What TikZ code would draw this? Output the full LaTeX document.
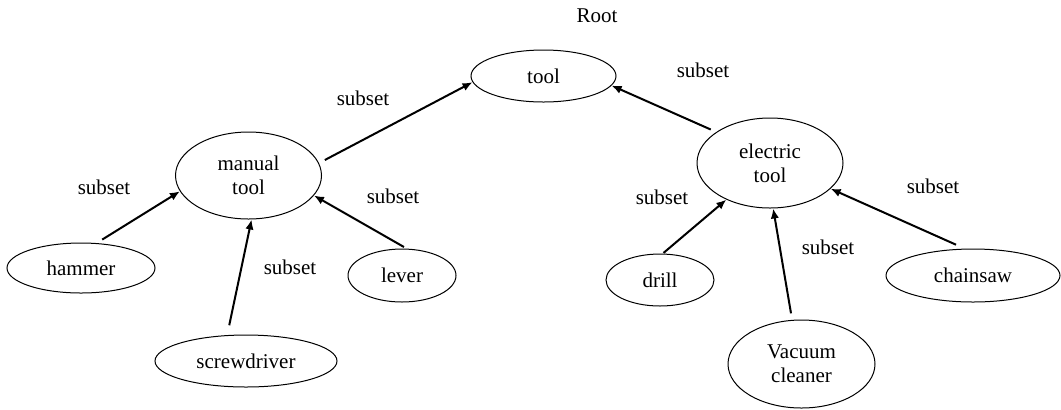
\documentclass[tikz,border=0pt]{standalone}
\usepackage{fontspec}
\setmainfont{Liberation Serif}
\usetikzlibrary{shapes.geometric,arrows.meta}
\begin{document}
\begin{tikzpicture}[x=0.5pt,y=-0.5pt,
  every node/.style={font=\fontsize{10.5}{12}\selectfont},
  concept/.style={ellipse,draw,line width=0.5pt,inner sep=0pt,align=center},
  lbl/.style={inner sep=0pt},
  isa/.style={line width=1pt,-{Latex[length=5pt,width=4.2pt]}}]
\useasboundingbox (0,0) rectangle (1061,409);

% concepts
\node[concept,minimum width=72.5pt,minimum height=26pt] (tool) at (543.5,76) {tool};
\node[concept,minimum width=73pt,minimum height=43.5pt] (manual) at (248.5,175.5) {manual\\tool};
\node[concept,minimum width=73pt,minimum height=45pt] (electric) at (770,163) {electric\\tool};
\node[concept,minimum width=74pt,minimum height=25pt] (hammer) at (81,268) {hammer};
\node[concept,minimum width=91pt,minimum height=26pt] (screwdriver) at (246,361) {screwdriver};
\node[concept,minimum width=54pt,minimum height=26.5pt] (lever) at (402,275.5) {lever};
\node[concept,minimum width=54pt,minimum height=26pt] (drill) at (660,280) {drill};
\node[concept,minimum width=73.5pt,minimum height=44pt] (vacuum) at (801.5,364) {Vacuum\\cleaner};
\node[concept,minimum width=87pt,minimum height=26.5pt] (chainsaw) at (973,275.5) {chainsaw};

% labels
\node[lbl] (root) at (597,16) {Root};
\node[lbl] (s1) at (363,98) {subset};
\node[lbl] (s2) at (703,70) {subset};
\node[lbl] (s3) at (104,187) {subset};
\node[lbl] (s4) at (393,196) {subset};
\node[lbl] (s5) at (290,267) {subset};
\node[lbl] (s6) at (662,197) {subset};
\node[lbl] (s7) at (828,247) {subset};
\node[lbl] (s8) at (933,186) {subset};

% subset relations
\draw[isa,shorten <=3.3pt] (manual.10) -- (tool.185);
\draw[isa,shorten <=3pt] (electric.150) -- (tool.-8);
\draw[isa,shorten <=3.3pt] (hammer.58) -- (manual.193);
\draw[isa,shorten <=5pt] (screwdriver.126) -- (manual.274);
\draw[isa,shorten <=1.6pt] (lever.80) -- (manual.-17);
\draw[isa,shorten <=0.5pt] (drill.84) -- (electric.220);
\draw[isa,shorten <=3.3pt] (vacuum.102) -- (electric.274);
\draw[isa,shorten <=4.8pt] (chainsaw.107) -- (electric.-23);
\end{tikzpicture}
\end{document}
